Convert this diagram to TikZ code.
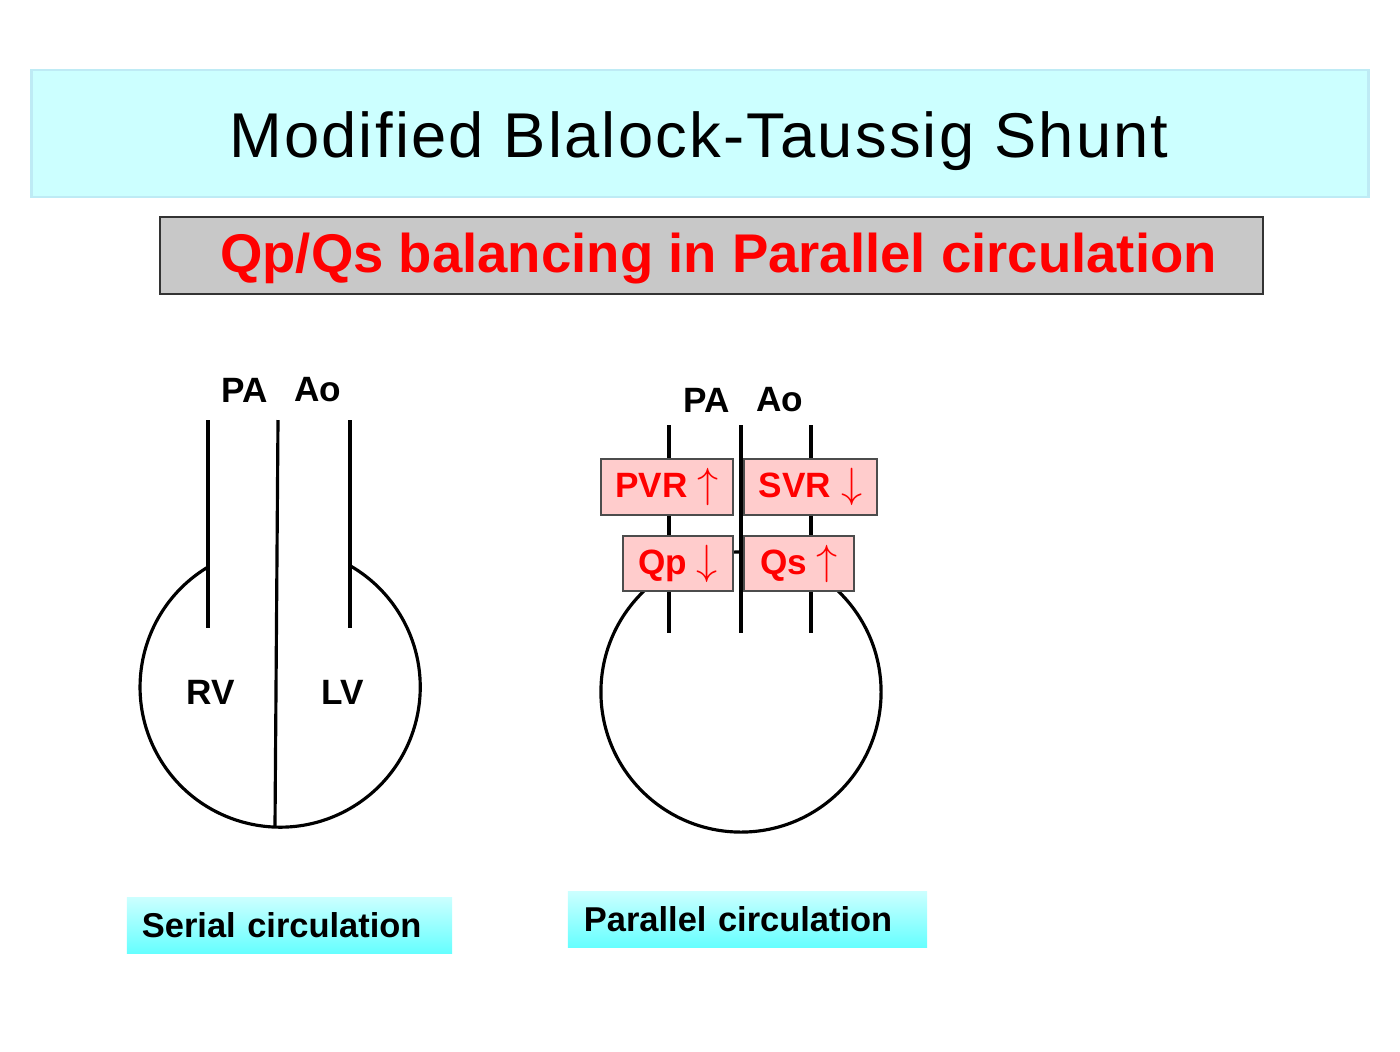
\documentclass[tikz,border=0pt]{standalone}
\usepackage{fontspec}
\setmainfont{Liberation Sans}
\newfontfamily\titlefont[LetterSpace=3.5]{Liberation Sans}
\usetikzlibrary{positioning}
\definecolor{ttlfill}{RGB}{204,255,255}
\definecolor{ttldraw}{RGB}{190,235,245}
\definecolor{subfill}{RGB}{200,200,200}
\definecolor{pinkfill}{RGB}{255,204,204}
\definecolor{lowcyan}{RGB}{102,255,255}
\newcommand\upar{{\fontsize{12}{12}\selectfont$\uparrow$}}
\newcommand\dnar{{\fontsize{12}{12}\selectfont$\downarrow$}}

\begin{document}
\begin{tikzpicture}[x=0.01cm,y=0.01cm,line width=0.9pt,
 lbl/.style={font=\bfseries\fontsize{10}{12}\selectfont},
 rbox/.style={draw=black!70,line width=0.5pt,fill=pinkfill,text=red,inner sep=0pt,
   font=\bfseries\fontsize{10}{12}\selectfont,minimum height=0.56cm},
 cbox/.style={top color=ttlfill,bottom color=lowcyan,inner ysep=0pt,align=left,
   font=\bfseries\fontsize{9.8}{12}\selectfont,minimum height=0.56cm}]
\useasboundingbox (0,0) rectangle (1400,-1051);
% header
\node[draw=ttldraw,line width=0.8pt,fill=ttlfill,minimum width=13.36cm,minimum height=1.27cm] (ttl) at (700,-133.5) {};
\node[font=\titlefont\fontsize{18}{22}\selectfont] (ttltxt) at (699,-141) {Modified Blalock-Taussig Shunt};
\node[draw=black!80,line width=0.6pt,fill=subfill,minimum width=11.03cm,minimum height=0.77cm] (sub) at (711.5,-255.5) {};
\node[text=red,font=\bfseries\fontsize{15.5}{18}\selectfont] (subtxt) at (718.5,-259) {Qp/Qs balancing in Parallel circulation};
% serial heart
\draw (208,-420) -- (208,-628);
\draw (350,-420) -- (350,-628);
\draw (278,-420) -- (275,-826);
\draw (208,-567) arc[start angle=121,end angle=420,radius=1.4cm];
\node[lbl] (pa1) at (245,-390) {PA};
\node[lbl] (ao1) at (318,-390) {Ao};
\node[lbl] (rv) at (211,-692) {RV};
\node[lbl] (lv) at (343,-692) {LV};
% parallel heart
\draw (741,-692) circle[radius=1.4cm];
\foreach \x in {669,741,811} \draw (\x,-425) -- (\x,-633);
\node[lbl] (pa2) at (707,-400) {PA};
\node[lbl] (ao2) at (780,-400) {Ao};
\node[rbox,minimum width=1.32cm] (pvr) at (667,-487) {PVR \upar};
\node[rbox,minimum width=1.33cm] (svr) at (810.5,-487) {SVR \dnar};
\node[rbox,minimum width=1.10cm,minimum height=0.55cm] (qp) at (678,-563.5) {Qp \dnar};
\node[rbox,minimum width=1.10cm,minimum height=0.55cm] (qs) at (799,-563.5) {Qs \upar};
% captions
\node[cbox,inner xsep=0.15cm,text width=2.95cm] (ser) at (289.5,-925) {Serial circulation};
\node[cbox,inner xsep=0.16cm,text width=3.27cm] (par) at (747.5,-919) {Parallel circulation};
\end{tikzpicture}
\end{document}
